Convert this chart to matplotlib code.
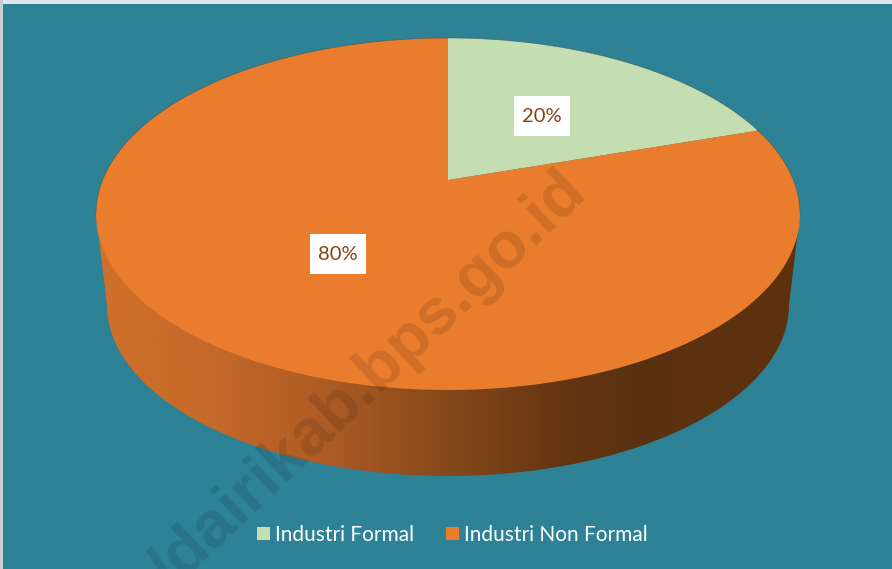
import numpy as np
import matplotlib
matplotlib.use('Agg')
import matplotlib.pyplot as plt
from matplotlib.colors import LinearSegmentedColormap
from matplotlib.patches import Patch, Polygon, Rectangle

categories = ['Industri Formal', 'Industri Non Formal']
values = [20, 80]
slice_colors = ['#C5DEB1', '#E97C2D']
label_color = '#8A3E0E'
bg_color = '#2E8296'

W, H = 892, 569

# top face is a circle seen in perspective
cx, cy = 448, 214
rx, ry = 352, 176
k = 2 * (cy - 180) / (2 * ry)
c = rx * np.sqrt(1 - k ** 2)
a = ry


def project(u, v):
    d = 1 + k * v
    return cx + c * u / d, cy - (a * v + (cy - 180)) / d


def wedge_points(start, end):
    t = np.radians(np.linspace(start, end, 200))
    x, y = project(np.sin(t), np.cos(t))
    ax0, ay0 = project(0, 0)
    return np.column_stack([np.r_[ax0, x], np.r_[ay0, y]])


fig = plt.figure(figsize=(W / 100, H / 100), dpi=100)
ax = fig.add_axes([0, 0, 1, 1])
ax.set_facecolor(bg_color)

# side of the pie
low_cy, low_rx, low_ry = 305, 341, 171
t = np.linspace(0, np.pi, 300)
upper = np.column_stack([cx - rx * np.cos(t), cy - ry * np.sin(t)])
lower = np.column_stack([cx + low_rx * np.cos(t), low_cy + low_ry * np.sin(t)])
side_poly = Polygon(np.vstack([upper, lower]), closed=True, transform=ax.transData,
                    facecolor='none', edgecolor='none')
ax.add_patch(side_poly)

side_cmap = LinearSegmentedColormap.from_list('side', [
    (0.0, '#D0702A'), (0.16, '#C5692A'), (0.32, '#AE5C25'), (0.5, '#85481A'),
    (0.66, '#653612'), (0.76, '#5A3211'), (1.0, '#5E310E')])
grad = ax.imshow(np.linspace(0, 1, 512).reshape(1, -1), cmap=side_cmap, aspect='auto',
                 extent=[97, 800, 480, 200], zorder=1)
grad.set_clip_path(side_poly)

# top face
angle = 0
for val, col in zip(values, slice_colors):
    sweep = val / sum(values) * 360
    ax.add_patch(Polygon(wedge_points(angle, angle + sweep), closed=True,
                         facecolor=col, edgecolor='none', zorder=2))
    mid = np.radians(angle + sweep / 2)
    lx, ly = project(0.5 * np.sin(mid), 0.5 * np.cos(mid))
    # label box is wider than tall by a fixed amount, so not a text bbox
    ax.add_patch(Rectangle((lx - 28, ly - 20), 56, 40, facecolor='white',
                           edgecolor='none', zorder=4))
    ax.text(lx, ly, f'{val}%', color=label_color, fontsize=14.5, family='Lato',
            ha='center', va='center', zorder=4.5)
    angle += sweep

# thin dark rim, back half only
t = np.linspace(np.pi, 2 * np.pi, 300)
ax.plot(cx + rx * np.cos(t), cy + ry * np.sin(t), color='#4A4A3A', lw=0.5, alpha=0.6, zorder=3)

# legend
handles = [Patch(facecolor=col, edgecolor='none') for col in slice_colors]
leg = ax.legend(handles, categories, ncol=2, frameon=False, loc='center',
                bbox_to_anchor=(452, 535), bbox_transform=ax.transData,
                labelcolor='white', handlelength=0.625, handleheight=0.625,
                handletextpad=0.24, columnspacing=1.54, prop=dict(family='Lato', size=15))

# scan edges
ax.add_patch(Rectangle((0, 0), W, 3.5, facecolor='#DDE6EE', edgecolor='none', zorder=5))
ax.add_patch(Rectangle((0, 0), 3, H, facecolor='#C9D0D4', edgecolor='none', zorder=5))

# watermark
ax.text(577, 183, '/dairikab.bps.go.id', fontsize=47, fontweight='bold',
        family='Liberation Sans', color='black', alpha=0.11, rotation=43.5,
        rotation_mode='anchor', ha='right', va='center', zorder=6, clip_on=True)

ax.set_xlim(0, W)
ax.set_ylim(H, 0)
ax.axis('off')
fig.patch.set_facecolor(bg_color)
fig.savefig('out.png', dpi=100, facecolor=bg_color)
